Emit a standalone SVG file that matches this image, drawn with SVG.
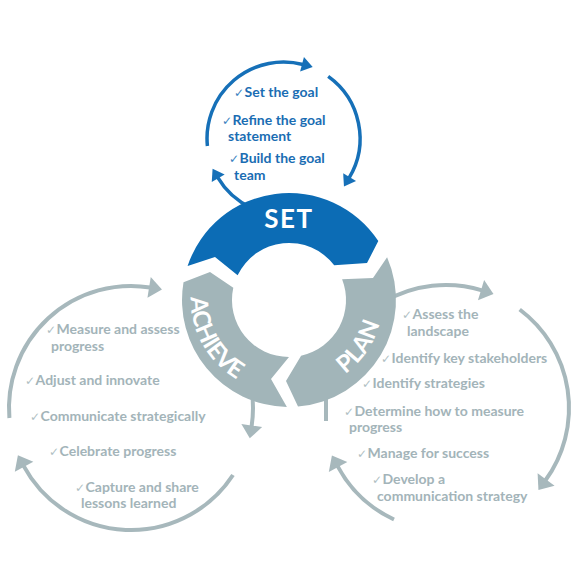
<svg xmlns="http://www.w3.org/2000/svg" width="576" height="576" viewBox="0 0 576 576">
<style>
.bl{fill:none;stroke:#1670B8;stroke-width:3.5}
.gl{fill:none;stroke:#A7B8BC;stroke-width:4}
.t{font-family:Lato,"Liberation Sans",sans-serif;font-weight:bold;font-size:14px}
.tb{fill:#1A6DB3}
.tg{fill:#A3B4B9}
.ck{font-family:"DejaVu Sans",sans-serif;font-weight:normal;font-size:12px}
.cb{fill:#3A82C0}
.cg{fill:#B0BFC3}
.seg-b{fill:#0C6CB5}
.seg-g{fill:#A2B5B9}
.lbl{font-family:Lato,"Open Sans",sans-serif;font-weight:bold;fill:#FFFFFF}
</style>
<defs>
<marker id="ab" markerUnits="userSpaceOnUse" orient="auto" refX="1" refY="0" markerWidth="20" markerHeight="20" viewBox="-2 -10 16 20" overflow="visible">
<path d="M0,-7.5 L11,0 L0,7.5 Z" fill="#1670B8"/>
</marker>
<marker id="ag" markerUnits="userSpaceOnUse" orient="auto" refX="1" refY="0" markerWidth="20" markerHeight="24" viewBox="-2 -12 18 24" overflow="visible">
<path d="M0,-10.5 L13,0 L0,10.5 Z" fill="#A7B8BC"/>
</marker>
<path id="pAch" d="M196.6,267.2 A92,92 0 0 0 264.8,389.7"/>
<path id="pPlan" d="M303,391 A92,92 0 0 0 380,278"/>
</defs>
<g id="connectors">
<path class="bl" d="M207.4,146 A76.5,76.5 0 0 1 303,64.5" marker-end="url(#ab)"/>
<path class="bl" d="M328.2,76.4 A76.5,76.5 0 0 1 349.1,177.9" marker-end="url(#ab)"/>
<path class="bl" d="M251.2,207.8 A76.5,76.5 0 0 1 217.7,177.4" marker-end="url(#ab)"/>
<path class="gl" d="M9.4,418 A122,122 0 0 1 150.1,287.5" marker-end="url(#ag)"/>
<path class="gl" d="M251.8,391 A122,122 0 0 1 251.6,426.5" marker-end="url(#ag)"/>
<path class="gl" d="M233,475 A122,122 0 0 1 23.6,465.9" marker-end="url(#ag)"/>
<path class="gl" d="M384.5,301.5 A123,123 0 0 1 482,290.4" marker-end="url(#ag)"/>
<path class="gl" d="M519.7,309.5 A123,123 0 0 1 545.5,480.3" marker-end="url(#ag)"/>
<path class="gl" d="M394,519.5 A123,123 0 0 1 337.6,466.1" marker-end="url(#ag)"/>
<path class="gl" d="M326,388 L326,421"/>
</g>
<g id="set">
<path class="seg-b" d="M187.6,265.9 A107,107 0 0 1 378.3,241.1 L367,263 L334.2,265.2 A57,57 0 0 0 237.6,275.3 L215,257 Z"/>
<text class="lbl" x="289" y="228" font-size="26" letter-spacing="1.5" text-anchor="middle">SET</text>
</g>
<g id="plan">
<path class="seg-g" d="M387.1,257.3 A107,107 0 0 1 298,406.6 L286,381 L301.1,355.7 A57,57 0 0 0 342.1,279.2 L373,278 Z"/>
<text class="lbl" font-size="24"><textPath href="#pPlan" startOffset="50%" text-anchor="middle">PLAN</textPath></text>
</g>
<g id="achieve">
<path class="seg-g" d="M286.9,407 A107,107 0 0 1 183.5,282.3 L210,272 L233.3,287.8 A57,57 0 0 0 289,357 L271,379 Z"/>
<text class="lbl" font-size="24" letter-spacing="-0.5"><textPath href="#pAch" startOffset="50%" text-anchor="middle">ACHIEVE</textPath></text>
</g>
<g id="set-items" class="t tb">
<text x="234" y="97"><tspan class="ck cb">✓</tspan><tspan dx="0.5">Set the goal</tspan></text>
<text x="222" y="125"><tspan class="ck cb">✓</tspan><tspan dx="0.5">Refine the goal</tspan></text>
<text x="228" y="141">statement</text>
<text x="229" y="163"><tspan class="ck cb">✓</tspan><tspan dx="0.5">Build the goal</tspan></text>
<text x="234" y="180">team</text>
</g>
<g id="achieve-items" class="t tg">
<text x="46" y="334"><tspan class="ck cg">✓</tspan><tspan dx="0.5">Measure and assess</tspan></text>
<text x="51" y="351">progress</text>
<text x="25" y="385"><tspan class="ck cg">✓</tspan><tspan dx="0.5">Adjust and innovate</tspan></text>
<text x="30" y="421"><tspan class="ck cg">✓</tspan><tspan dx="0.5">Communicate strategically</tspan></text>
<text x="49" y="456"><tspan class="ck cg">✓</tspan><tspan dx="0.5">Celebrate progress</tspan></text>
<text x="75" y="492"><tspan class="ck cg">✓</tspan><tspan dx="0.5">Capture and share</tspan></text>
<text x="81" y="508">lessons learned</text>
</g>
<g id="plan-items" class="t tg">
<text x="402" y="319"><tspan class="ck cg">✓</tspan><tspan dx="0.5">Assess the</tspan></text>
<text x="407" y="336">landscape</text>
<text x="381" y="363"><tspan class="ck cg">✓</tspan><tspan dx="0.5">Identify key stakeholders</tspan></text>
<text x="362" y="388"><tspan class="ck cg">✓</tspan><tspan dx="0.5">Identify strategies</tspan></text>
<text x="344" y="416"><tspan class="ck cg">✓</tspan><tspan dx="0.5">Determine how to measure</tspan></text>
<text x="349" y="432">progress</text>
<text x="357" y="458"><tspan class="ck cg">✓</tspan><tspan dx="0.5">Manage for success</tspan></text>
<text x="372" y="484"><tspan class="ck cg">✓</tspan><tspan dx="0.5">Develop a</tspan></text>
<text x="377" y="501">communication strategy</text>
</g>
</svg>
